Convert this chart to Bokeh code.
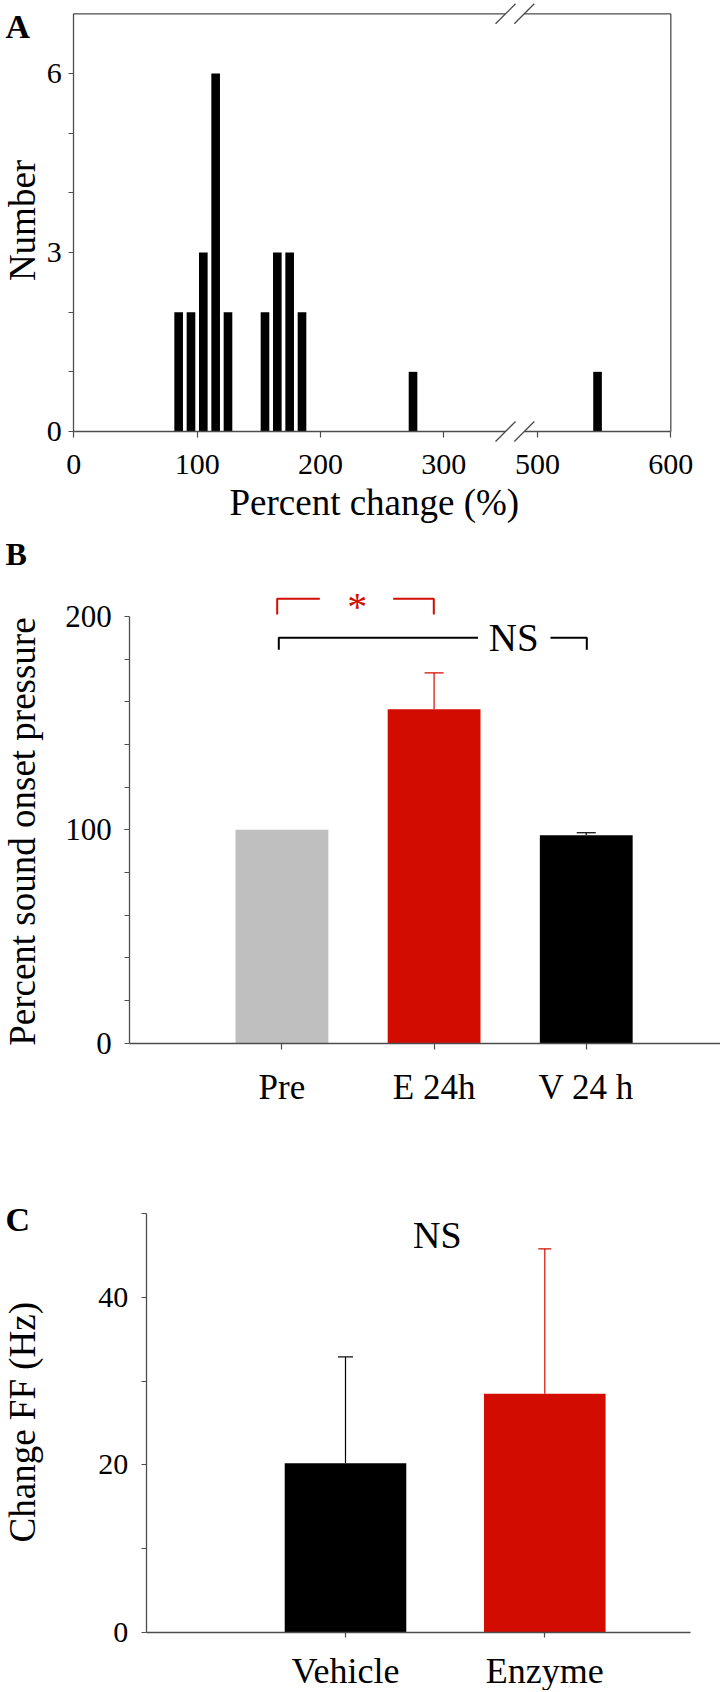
import math
from bokeh.plotting import figure
from bokeh.layouts import column
from bokeh.models import (Range1d, FixedTicker, Whisker, ColumnDataSource, TeeHead, LinearAxis)
from bokeh.embed import file_html
from bokeh.resources import INLINE
from bokeh.core.properties import value

# ---------------- data ----------------
# Panel A: histogram of percent change
hist_bins = [85, 95, 105, 115, 125, 155, 165, 175, 185, 275, 545]
hist_counts = [2, 2, 3, 6, 2, 2, 3, 3, 2, 1, 1]
hist_ticks = [0, 100, 200, 300, 500, 600]
hist_yticks = [0, 3, 6]

# Panel B: percent sound onset pressure
b_groups = ["Pre", "E 24h", "V 24 h"]
b_means = [100, 156.5, 97.4]
b_errs = [0, 17.1, 1.2]
b_colors = ["#BFBFBF", "#D20C00", "#000000"]

# Panel C: change FF
c_groups = ["Vehicle", "Enzyme"]
c_means = [20.2, 28.5]
c_errs = [12.7, 17.3]
c_colors = ["#000000", "#D20C00"]

# ---------------- styling ----------------
FONT = "Liberation Serif"
AXC = "#4d4d4d"
RED = "#D20C00"
W = 720
PAGE_X0 = 0

# broken x axis of panel A: 0..360 linear, then 490..600 compressed
BREAK_LO, BREAK_HI = 350, 490
SEG2_START, SEG2_SCALE = 376, 1.08


def brk(v):
    return v if v <= 360 else SEG2_START + (v - 500) * SEG2_SCALE


class Panel:
    """Figure whose frame fills the whole canvas; axes sit at fixed data locations."""

    def __init__(self, top_page, height, axis_x_page, xppu, axis_y_page, yppu):
        self.ax_x, self.xppu = axis_x_page, xppu
        self.ax_y, self.yppu = axis_y_page, yppu
        x0 = self.dx(PAGE_X0)
        x1 = self.dx(PAGE_X0 + W)
        y1 = self.dy(top_page)
        y0 = self.dy(top_page + height)
        self.p = figure(width=W, height=height, output_backend="svg", toolbar_location=None,
                        x_range=Range1d(x0, x1), y_range=Range1d(y0, y1),
                        x_axis_type=None, y_axis_type=None,
                        min_border_left=0, min_border_right=0,
                        min_border_top=0, min_border_bottom=0)
        self.p.outline_line_color = None

    def dx(self, px):
        return (px - self.ax_x) / self.xppu

    def dy(self, py):
        return (self.ax_y - py) / self.yppu

    def text(self, px, py, s, size, color="black", bold=False, angle=0.0, align="center"):
        # (px, py): page position of the text's vertical middle
        self.p.text(x=[self.dx(px)], y=[self.dy(py)], text=[s], text_font=value(FONT),
                    text_font_size=value(size), text_color=color, angle=angle,
                    text_font_style="bold" if bold else "normal",
                    text_align=align, text_baseline="middle")


def style_axis(ax, size, standoff, tick):
    ax.axis_line_color = AXC
    ax.axis_line_width = 1.3
    ax.major_tick_line_color = AXC
    ax.minor_tick_line_color = AXC
    ax.major_tick_line_width = 1.2
    ax.minor_tick_line_width = 1.2
    ax.major_tick_out = tick
    ax.major_tick_in = 0
    ax.minor_tick_out = tick
    ax.minor_tick_in = 0
    ax.major_label_text_font = FONT
    ax.major_label_text_font_size = size
    ax.major_label_text_color = "black"
    ax.major_label_standoff = standoff
    ax.fixed_location = 0
    return ax


YTITLE_X = 22
YTITLE_SIZE = "37px"
LETTER_X = 5

# ================= Panel A =================
A = Panel(top_page=0, height=530, axis_x_page=73.3, xppu=1.2335, axis_y_page=431, yppu=59.67)
pA = A.p
xendA = brk(600)
YTOP_A = 7

yA = style_axis(LinearAxis(ticker=FixedTicker(ticks=hist_yticks, minor_ticks=[1, 2, 4, 5])),
                "30px", 7, 5)
yA.bounds = (0, YTOP_A)
pA.add_layout(yA, "left")
tick_pos = [int(round(brk(t))) for t in hist_ticks]
xA = style_axis(LinearAxis(ticker=FixedTicker(ticks=tick_pos)), "30px", 17, 6)
xA.major_label_overrides = {tp: str(t) for tp, t in zip(tick_pos, hist_ticks)}
xA.axis_line_color = None
xA.bounds = (0, xendA)
pA.add_layout(xA, "below")

srcA = ColumnDataSource(dict(x=[brk(v) for v in hist_bins], top=hist_counts))
pA.vbar(x="x", top="top", bottom=0, width=7, source=srcA, fill_color="black", line_color=None)

# box frame with the axis break
gx0 = [brk(0), brk(BREAK_HI)]
gx1 = [brk(BREAK_LO), xendA]
pA.segment(x0=gx0, y0=[0, 0], x1=gx1, y1=[0, 0], line_color=AXC, line_width=1.3)
pA.segment(x0=gx0, y0=[YTOP_A] * 2, x1=gx1, y1=[YTOP_A] * 2, line_color=AXC, line_width=1.3)
pA.segment(x0=[xendA], y0=[0], x1=[xendA], y1=[YTOP_A], line_color=AXC, line_width=1.3)
hx = 10 / A.xppu
hy = 10 / A.yppu
sx0, sy0, sx1, sy1 = [], [], [], []
for c in (brk(BREAK_LO), brk(BREAK_HI)):
    for yl in (0, YTOP_A):
        sx0.append(c - hx); sy0.append(yl - hy); sx1.append(c + hx); sy1.append(yl + hy)
pA.segment(x0=sx0, y0=sy0, x1=sx1, y1=sy1, line_color=AXC, line_width=1.3)

A.text(LETTER_X, 25.9, "A", "34px", bold=True, align="left")
A.text(YTITLE_X, 220, "Number", YTITLE_SIZE, angle=math.pi / 2)
A.text(373.8, 501.7, "Percent change (%)", "37px")

# ================= Panel B =================
B = Panel(top_page=530, height=580, axis_x_page=129.3, xppu=152.15, axis_y_page=1042.5, yppu=2.1325)
pB = B.p
b_pos = list(range(1, len(b_groups) + 1))

yB = style_axis(LinearAxis(ticker=FixedTicker(ticks=[0, 100, 200],
                                              minor_ticks=list(range(20, 200, 20)))),
                "31px", 13, 5)
yB.bounds = (0, 200)
pB.add_layout(yB, "left")
xB = style_axis(LinearAxis(ticker=FixedTicker(ticks=b_pos)), "35px", 19, 6)
xB.major_label_overrides = {i: g for i, g in zip(b_pos, b_groups)}
xB.bounds = (0, B.dx(720))
pB.add_layout(xB, "below")

pB.vbar(x=b_pos, top=b_means, bottom=0, width=0.61, fill_color=b_colors, line_color=None)
for i, (m, e, col) in enumerate(zip(b_means, b_errs, b_colors)):
    if e <= 0:
        continue
    src = ColumnDataSource(dict(base=[b_pos[i]], lower=[m], upper=[m + e]))
    pB.add_layout(Whisker(source=src, base="base", lower="lower", upper="upper",
                          dimension="height", line_color=col, line_width=1.2,
                          lower_head=None,
                          upper_head=TeeHead(size=19, line_color=col, line_width=1.2)))

# significance brackets (page-pixel geometry of the annotation)
red_br = dict(xl=276.7, xlh=319.3, xrh=392.7, xr=433.3, yt=598.3, yb=614.0)
blk_br = dict(xl=278.3, xlh=477.5, xrh=550.0, xr=586.3, yt=637.3, yb=649.3)
for br, col in ((red_br, RED), (blk_br, "black")):
    xs = [[B.dx(br["xl"]), B.dx(br["xl"]), B.dx(br["xlh"])],
          [B.dx(br["xrh"]), B.dx(br["xr"]), B.dx(br["xr"])]]
    ys = [[B.dy(br["yb"]), B.dy(br["yt"]), B.dy(br["yt"])],
          [B.dy(br["yt"]), B.dy(br["yt"]), B.dy(br["yb"])]]
    pB.multi_line(xs=xs, ys=ys, line_color=col, line_width=2)
B.text(356.7, 606.3, "*", "40px", color=RED)
B.text(513.3, 637.4, "NS", "39px")
B.text(LETTER_X, 553.3, "B", "32px", bold=True, align="left")
B.text(YTITLE_X, 826.5, "Percent sound onset  pressure", YTITLE_SIZE, angle=math.pi / 2)

# ================= Panel C =================
C = Panel(top_page=1110, height=580, axis_x_page=145.7, xppu=199.3, axis_y_page=1631.7, yppu=8.368)
pC = C.p
c_pos = list(range(1, len(c_groups) + 1))

yC = style_axis(LinearAxis(ticker=FixedTicker(ticks=[0, 20, 40], minor_ticks=[10, 30, 50])),
                "30px", 13, 5)
yC.bounds = (0, 50)
pC.add_layout(yC, "left")
xC = style_axis(LinearAxis(ticker=FixedTicker(ticks=c_pos)), "36px", 14, 5)
xC.major_label_overrides = {i: g for i, g in zip(c_pos, c_groups)}
xC.bounds = (0, C.dx(690))
pC.add_layout(xC, "below")

pC.vbar(x=c_pos, top=c_means, bottom=0, width=0.61, fill_color=c_colors, line_color=None)
for i, (m, e, col, cap) in enumerate(zip(c_means, c_errs, c_colors, [15, 13])):
    src = ColumnDataSource(dict(base=[c_pos[i]], lower=[m], upper=[m + e]))
    pC.add_layout(Whisker(source=src, base="base", lower="lower", upper="upper",
                          dimension="height", line_color=col, line_width=1.2,
                          lower_head=None,
                          upper_head=TeeHead(size=cap, line_color=col, line_width=1.2)))
C.text(436.9, 1234.9, "NS", "38px")
C.text(LETTER_X, 1219.2, "C", "34px", bold=True, align="left")
C.text(YTITLE_X, 1421.7, "Change FF (Hz)", YTITLE_SIZE, angle=math.pi / 2)

layout = column(pA, pB, pC, spacing=0)
open("out.html", "w").write(file_html(layout, INLINE))
